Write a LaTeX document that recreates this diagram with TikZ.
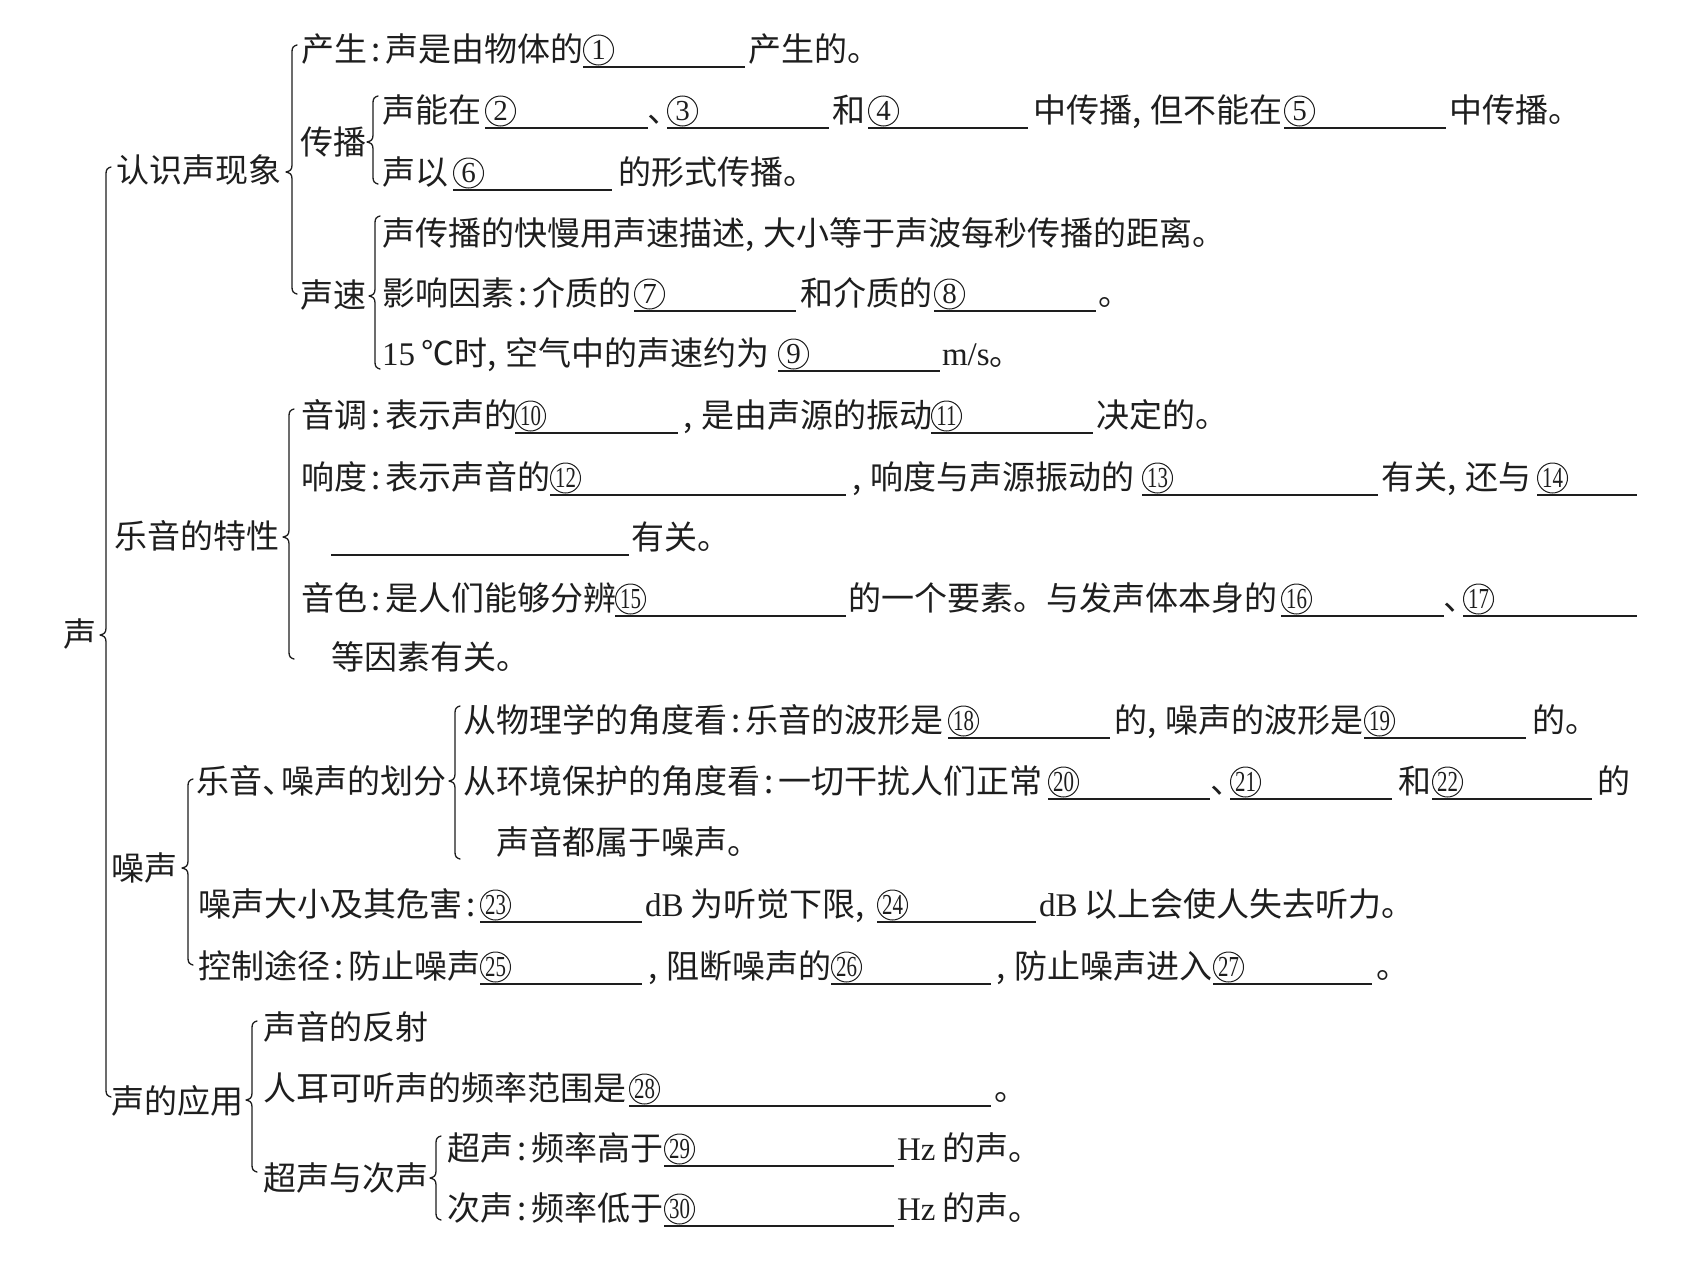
\documentclass[tikz,border=0pt]{standalone}
\usepackage{fontspec}
\usepackage{graphicx}
\setmainfont{Liberation Serif}
\newfontfamily\cjk{Noto Sans CJK SC}
\definecolor{ink}{HTML}{1E1E1E}
\newcommand\cl{\makebox[0.55em][c]{:}}
\newcommand\cm{\makebox[0.55em][l]{,}}
\newcommand\dn{､}
\newcommand\lat[1]{{\rmfamily #1}}
\newcommand\tn[1]{\scalebox{0.72}[1]{#1}}
\newcommand\mybrace[4]{\draw[br] (#1+5,#2-2) .. controls (#1+1,#2-1) and (#1,#2+1) .. (#1,#2+5) -- (#1,#3-7) .. controls (#1,#3-2) and (#1-2,#3-1) .. (#1-6,#3) .. controls (#1-2,#3+1) and (#1,#3+2) .. (#1,#3+7) -- (#1,#4-5) .. controls (#1,#4-1) and (#1+1,#4+1) .. (#1+5,#4+2);}
\begin{document}
\begin{tikzpicture}[x=1pt,y=-1pt,
  t/.style={anchor=base west,inner sep=0pt,outer sep=0pt,yshift=-12.5pt,text=ink,font=\cjk\fontsize{33}{33}\selectfont},
  cn/.style={circle,draw=ink,line width=1pt,minimum size=30pt,inner sep=0pt,outer sep=0pt,anchor=west,xshift=0.5pt,yshift=-1pt,text=ink,font=\rmfamily\fontsize{29}{29}\selectfont},
  ul/.style={draw=ink,line width=1.2pt},
  br/.style={draw=ink,line width=1.3pt,line cap=round,line join=round}]
\fill[white] (0,0) rectangle (1693,1261);
\useasboundingbox (0,0) rectangle (1693,1261);

% labels
\node[t] (root) at (63,634) {声};
\node[t] (rs) at (116,170) {认识声现象};
\node[t] (cb) at (300,142) {传播};
\node[t] (sv) at (300,295) {声速};
\node[t] (yy) at (114,536) {乐音的特性};
\node[t] (hf) at (196,781) {乐音\makebox[0.6em][l]{、}噪声的划分};
\node[t] (zs) at (111,868) {噪声};
\node[t] (yy2) at (111,1101) {声的应用};
\node[t] (cc) at (263,1178) {超声与次声};

% braces
\mybrace{106}{169}{635}{1095}
\mybrace{292}{47}{172}{292}
\mybrace{373}{98}{142}{182}
\mybrace{375}{218}{296}{367}
\mybrace{289}{411}{537}{657}
\mybrace{188}{781}{868}{963}
\mybrace{455}{708}{781}{857}
\mybrace{252}{1023}{1100}{1170}
\mybrace{436}{1138}{1178}{1218}

% row 1
\node[t] (r1a) at (301,49) {产生\cl 声是由物体的};
\node[cn] (r1b) at (583,49) {1};
\draw[ul] (583,67) -- (745,67);
\node[t] (r1c) at (748,49) {产生的。};
% row 2
\node[t] (r2a) at (382,110) {声能在};
\node[cn] (r2b) at (485,110) {2};
\draw[ul] (485,128) -- (648,128);
\node[t] (r2c) at (648,110) {\dn};
\node[cn] (r2d) at (667,110) {3};
\draw[ul] (667,128) -- (829,128);
\node[t] (r2e) at (832,110) {和};
\node[cn] (r2f) at (868,110) {4};
\draw[ul] (868,128) -- (1028,128);
\node[t] (r2g) at (1033,110) {中传播\cm 但不能在};
\node[cn] (r2h) at (1284,110) {5};
\draw[ul] (1284,128) -- (1446,128);
\node[t] (r2i) at (1449,110) {中传播。};
% row 3
\node[t] (r3a) at (382,172) {声以};
\node[cn] (r3b) at (453,172) {6};
\draw[ul] (453,190) -- (612,190);
\node[t] (r3c) at (618,172) {的形式传播。};
% row 4
\node[t] (r4a) at (382,233) {声传播的快慢用声速描述\cm 大小等于声波每秒传播的距离。};
% row 5
\node[t] (r5a) at (382,293) {影响因素\cl 介质的};
\node[cn] (r5b) at (634,293) {7};
\draw[ul] (634,311) -- (796,311);
\node[t] (r5c) at (800,293) {和介质的};
\node[cn] (r5d) at (934,293) {8};
\draw[ul] (934,311) -- (1096,311);
\node[t] (r5e) at (1098,293) {。};
% row 6
\node[t] (r6a) at (382,353) {\lat{15}\hspace{0.2em}℃时\cm 空气中的声速约为};
\node[cn] (r6b) at (778,353) {9};
\draw[ul] (778,371) -- (940,371);
\node[t] (r6c) at (942,353) {\lat{m/s}。};
% row 7
\node[t] (r7a) at (301,415) {音调\cl 表示声的};
\node[cn] (r7b) at (515,415) {\tn{10}};
\draw[ul] (515,433) -- (678,433);
\node[t] (r7c) at (683,415) {\cm 是由声源的振动};
\node[cn] (r7d) at (931,415) {\tn{11}};
\draw[ul] (931,433) -- (1093,433);
\node[t] (r7e) at (1096,415) {决定的。};
% row 8
\node[t] (r8a) at (301,477) {响度\cl 表示声音的};
\node[cn] (r8b) at (550,477) {\tn{12}};
\draw[ul] (550,495) -- (846,495);
\node[t] (r8c) at (852,477) {\cm 响度与声源振动的};
\node[cn] (r8d) at (1142,477) {\tn{13}};
\draw[ul] (1142,495) -- (1378,495);
\node[t] (r8e) at (1381,477) {有关\cm 还与};
\node[cn] (r8f) at (1537,477) {\tn{14}};
\draw[ul] (1537,495) -- (1637,495);
% row 9
\draw[ul] (331,555) -- (629,555);
\node[t] (r9a) at (631,537) {有关。};
% row 10
\node[t] (r10a) at (301,598) {音色\cl 是人们能够分辨};
\node[cn] (r10b) at (615,598) {\tn{15}};
\draw[ul] (615,616) -- (846,616);
\node[t] (r10c) at (848,598) {的一个要素。与发声体本身的};
\node[cn] (r10d) at (1281,598) {\tn{16}};
\draw[ul] (1281,616) -- (1444,616);
\node[t] (r10e) at (1444,598) {\dn};
\node[cn] (r10f) at (1463,598) {\tn{17}};
\draw[ul] (1463,616) -- (1637,616);
% row 11
\node[t] (r11a) at (331,657) {等因素有关。};
% row 12
\node[t] (r12a) at (463,720) {从物理学的角度看\cl 乐音的波形是};
\node[cn] (r12b) at (948,720) {\tn{18}};
\draw[ul] (948,738) -- (1110,738);
\node[t] (r12c) at (1114,720) {的\cm 噪声的波形是};
\node[cn] (r12d) at (1364,720) {\tn{19}};
\draw[ul] (1364,738) -- (1526,738);
\node[t] (r12e) at (1532,720) {的。};
% row 13
\node[t] (r13a) at (463,781) {从环境保护的角度看\cl 一切干扰人们正常};
\node[cn] (r13b) at (1048,781) {\tn{20}};
\draw[ul] (1048,799) -- (1210,799);
\node[t] (r13c) at (1211,781) {\dn};
\node[cn] (r13d) at (1230,781) {\tn{21}};
\draw[ul] (1230,799) -- (1392,799);
\node[t] (r13e) at (1398,781) {和};
\node[cn] (r13f) at (1432,781) {\tn{22}};
\draw[ul] (1432,799) -- (1592,799);
\node[t] (r13g) at (1597,781) {的};
% row 14
\node[t] (r14a) at (496,842) {声音都属于噪声。};
% row 15
\node[t] (r15a) at (198,904) {噪声大小及其危害\cl};
\node[cn] (r15b) at (480,904) {\tn{23}};
\draw[ul] (480,922) -- (642,922);
\node[t] (r15c) at (645,904) {\lat{dB} 为听觉下限\cm};
\node[cn] (r15d) at (877,904) {\tn{24}};
\draw[ul] (877,922) -- (1036,922);
\node[t] (r15e) at (1039,904) {\lat{dB} 以上会使人失去听力。};
% row 16
\node[t] (r16a) at (198,966) {控制途径\cl 防止噪声};
\node[cn] (r16b) at (480,966) {\tn{25}};
\draw[ul] (480,984) -- (642,984);
\node[t] (r16c) at (648,966) {\cm 阻断噪声的};
\node[cn] (r16d) at (831,966) {\tn{26}};
\draw[ul] (831,984) -- (991,984);
\node[t] (r16e) at (996,966) {\cm 防止噪声进入};
\node[cn] (r16f) at (1213,966) {\tn{27}};
\draw[ul] (1213,984) -- (1372,984);
\node[t] (r16g) at (1376,966) {。};
% row 17
\node[t] (r17a) at (263,1027) {声音的反射};
% row 18
\node[t] (r18a) at (263,1088) {人耳可听声的频率范围是};
\node[cn] (r18b) at (629,1088) {\tn{28}};
\draw[ul] (629,1106) -- (991,1106);
\node[t] (r18c) at (994,1088) {。};
% row 19
\node[t] (r19a) at (447,1148) {超声\cl 频率高于};
\node[cn] (r19b) at (664,1148) {\tn{29}};
\draw[ul] (664,1166) -- (894,1166);
\node[t] (r19c) at (897,1148) {\lat{Hz} 的声。};
% row 20
\node[t] (r20a) at (447,1208) {次声\cl 频率低于};
\node[cn] (r20b) at (664,1208) {\tn{30}};
\draw[ul] (664,1226) -- (894,1226);
\node[t] (r20c) at (897,1208) {\lat{Hz} 的声。};
\end{tikzpicture}
\end{document}
